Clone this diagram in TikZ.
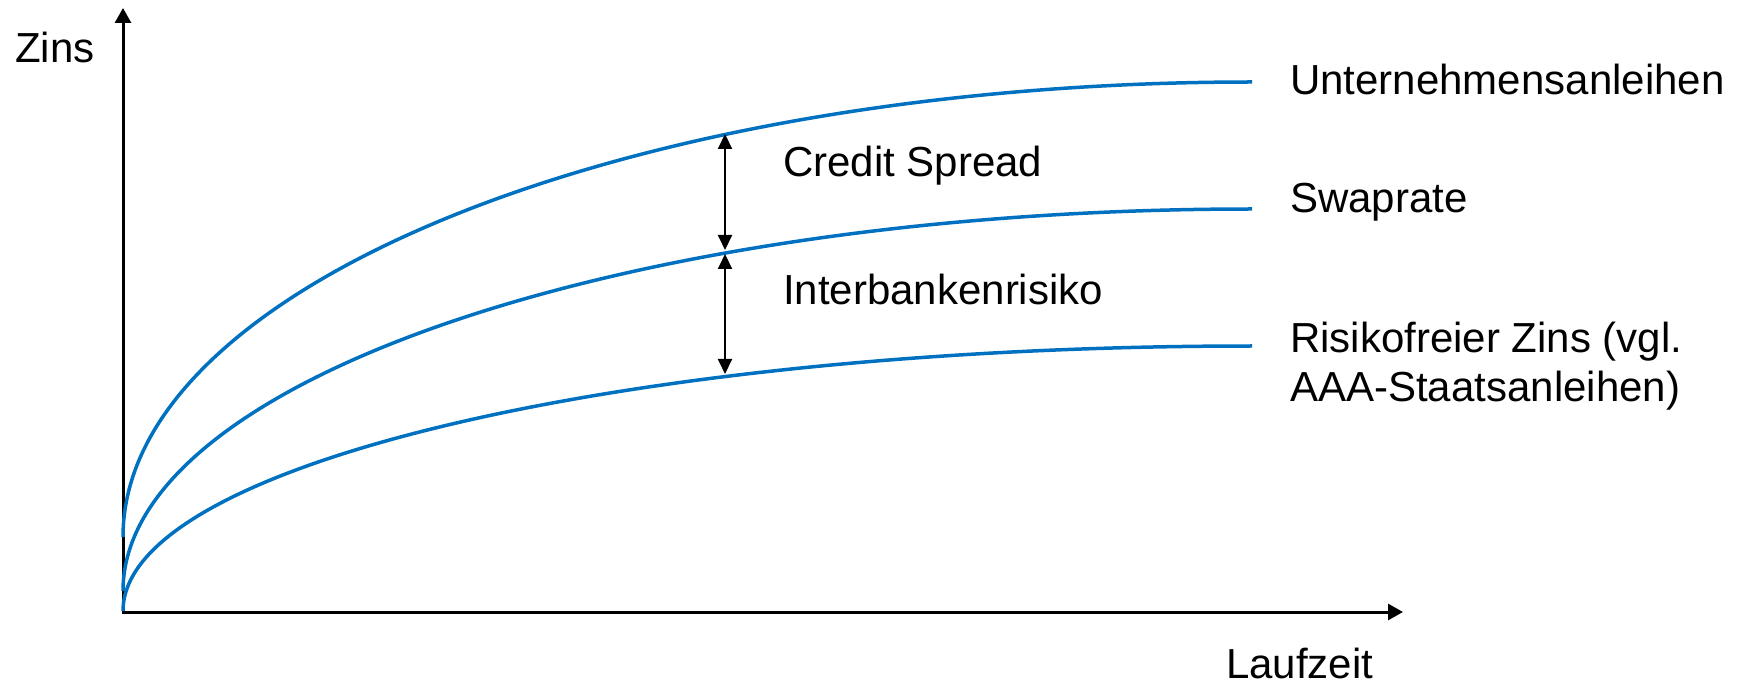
\documentclass[tikz,border=0pt]{standalone}
\usepackage{fontspec}
\setmainfont{Liberation Sans}
\usetikzlibrary{arrows.meta}
\definecolor{curveblue}{RGB}{0,112,192}
\begin{document}
\begin{tikzpicture}[x=1pt,y=-1pt,
  lbl/.style={anchor=base west,inner sep=0pt,font=\fontsize{42}{49}\selectfont},
  axisline/.style={line width=3pt,line join=miter,{Triangle[width=16pt,length=15pt]}-{Triangle[width=16pt,length=15pt]}},
  curveline/.style={curveblue,line width=3.5pt},
  gapline/.style={line width=2pt,{Triangle[width=14pt,length=15pt]}-{Triangle[width=14pt,length=15pt]}}]
\useasboundingbox (0,0) rectangle (1740,684);

% axes
\coordinate (origin) at (123,612);
\coordinate (ytop) at (123,8);
\coordinate (xend) at (1403,612);
\draw[axisline] (ytop) -- (origin) -- (xend);

% curves (quarter ellipses ending at x = 1252)
\coordinate (uStart) at (123,537);
\coordinate (sStart) at (123,591);
\coordinate (rStart) at (123,611);
\draw[curveline] (uStart) arc[start angle=180, end angle=90, x radius=1129pt, y radius=455pt];
\draw[curveline] (sStart) arc[start angle=180, end angle=90, x radius=1129pt, y radius=382pt];
\draw[curveline] (rStart) arc[start angle=180, end angle=90, x radius=1129pt, y radius=265pt];

% spread arrows
\coordinate (csTop) at (725,134);
\coordinate (csBot) at (725,250);
\coordinate (ibTop) at (725,254);
\coordinate (ibBot) at (725,374);
\draw[gapline] (csTop) -- (csBot);
\draw[gapline] (ibTop) -- (ibBot);

% labels
\node[lbl] (zins) at (15,63) {Zins};
\node[lbl] (laufzeit) at (1226,678) {Laufzeit};
\node[lbl] (unt) at (1290,95) {Unternehmensanleihen};
\node[lbl] (swap) at (1290,213) {Swaprate};
\node[lbl] (risk1) at (1290,353) {Risikofreier Zins (vgl.};
\node[lbl] (risk2) at (1290,402) {AAA-Staatsanleihen)};
\node[lbl] (credit) at (783,177) {Credit Spread};
\node[lbl] (inter) at (783,305) {Interbankenrisiko};
\end{tikzpicture}
\end{document}
